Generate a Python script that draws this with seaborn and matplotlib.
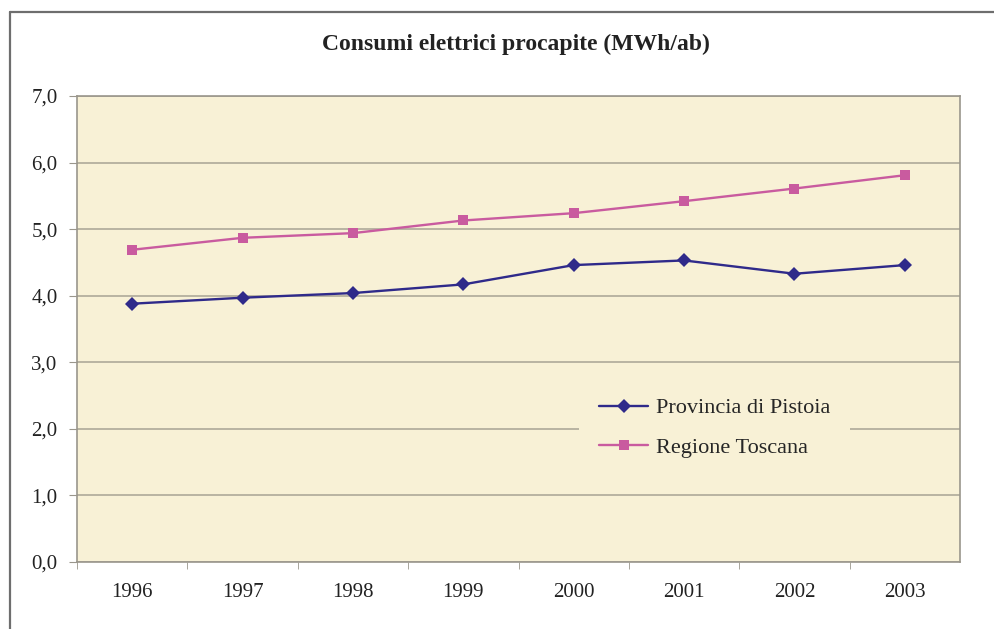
import pandas as pd
import matplotlib.pyplot as plt
import seaborn as sns
from matplotlib.ticker import FuncFormatter, MultipleLocator

anni = [1996, 1997, 1998, 1999, 2000, 2001, 2002, 2003]
pistoia = [3.88, 3.97, 4.04, 4.17, 4.46, 4.53, 4.33, 4.46]
toscana = [4.69, 4.87, 4.94, 5.13, 5.24, 5.42, 5.61, 5.81]
serie = ['Provincia di Pistoia', 'Regione Toscana']

df = pd.DataFrame({
    'anno': anni * 2,
    'valore': pistoia + toscana,
    'serie': [serie[0]] * len(anni) + [serie[1]] * len(anni),
})

sns.set_style('white')
plt.rcParams['font.family'] = ['Liberation Serif', 'DejaVu Serif']

fig = plt.figure(figsize=(9.94, 6.29), dpi=100)
ax = fig.add_axes([77 / 994, 67 / 629, 883 / 994, 466 / 629])

# outer frame of the chart (only top and left visible in the picture)
fig.add_artist(plt.Line2D([10 / 994, 10 / 994], [0, 1 - 12 / 629], transform=fig.transFigure,
                          color='#6e6e6e', lw=1.6))
fig.add_artist(plt.Line2D([10 / 994, 1], [1 - 12 / 629, 1 - 12 / 629], transform=fig.transFigure,
                          color='#6e6e6e', lw=1.6))

ax.set_facecolor('#f8f1d6')
for s in ax.spines.values():
    s.set_color('#9a968c')
    s.set_linewidth(1.2)

sns.lineplot(data=df, x='anno', y='valore', hue='serie', style='serie',
             palette={serie[0]: '#2f2a8a', serie[1]: '#c95b9f'},
             markers={serie[0]: 'D', serie[1]: 's'}, dashes=False,
             markersize=7.5, linewidth=1.7, markeredgewidth=0, ax=ax, zorder=3)

ax.set_xlim(anni[0] - 0.5, anni[-1] + 0.5)
ax.set_ylim(0, 7)
ax.yaxis.set_major_locator(MultipleLocator(1))
ax.yaxis.set_major_formatter(FuncFormatter(lambda v, p: f'{v:.1f}'.replace('.', ',')))
ax.set_xticks(anni)
ax.set_xticks([a + 0.5 for a in anni[:-1]] + [anni[0] - 0.5], minor=True)
ax.tick_params(axis='x', which='major', length=0, pad=15, labelsize=15, colors='#222222')
ax.tick_params(axis='x', which='minor', length=5, direction='out', color='#9a968c', bottom=True)
ax.tick_params(axis='y', length=6, direction='out', color='#9a968c', left=True, pad=8,
               labelsize=15, colors='#222222')
ax.grid(axis='y', color='#a8a394', lw=1.1)
ax.set_axisbelow(True)
ax.set_xlabel('')
ax.set_ylabel('')

fig.text(516 / 994, 1 - 44 / 629, 'Consumi elettrici procapite (MWh/ab)', ha='center', va='center',
         fontsize=17, fontweight='bold', color='#222222')

leg = ax.legend(loc='center left', bbox_to_anchor=(0.556, 0.288), frameon=True, fontsize=16,
                handlelength=2.2, borderpad=0.9, labelspacing=0.85, handletextpad=0.35)
leg.get_frame().set_facecolor('#f8f1d6')
leg.get_frame().set_edgecolor('none')
leg.get_frame().set_alpha(1)

fig.savefig('out.png', dpi=100, facecolor='white')
